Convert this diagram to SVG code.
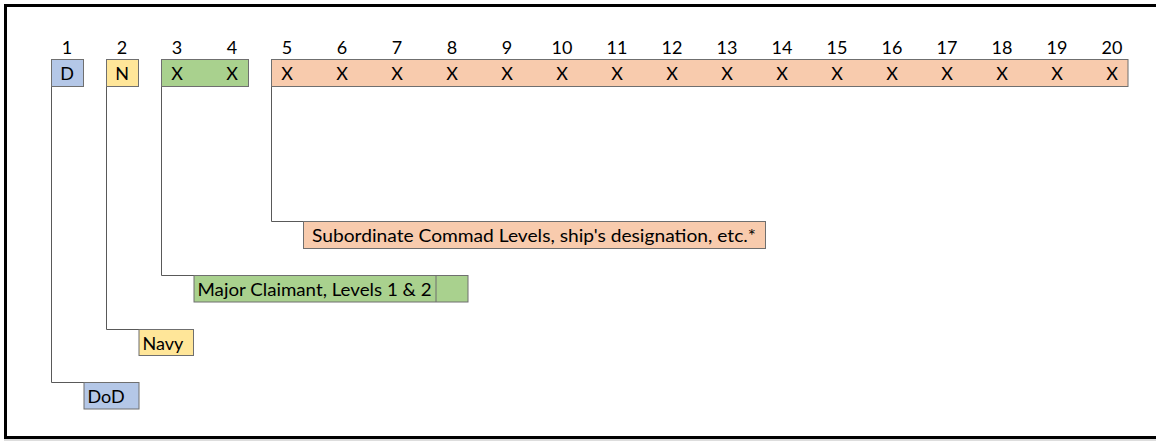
<svg xmlns="http://www.w3.org/2000/svg" width="1156" height="441" viewBox="0 0 1156 441">
<style>
text{font-family:"Lato","Liberation Sans",sans-serif;font-size:18px;fill:#000}
.num{text-anchor:middle}
.x{text-anchor:middle}
.box{stroke:#6f6f6f;stroke-width:1}
.b{fill:#B4C7E7}.y{fill:#FFE699}.g{fill:#A9D18E}.o{fill:#F8CBAD}
.conn{fill:none;stroke:#595959;stroke-width:1}
</style>
<rect x="0" y="0" width="1156" height="441" fill="#fff"/>
<rect x="5.5" y="5.5" width="1160" height="432" fill="none" stroke="#000" stroke-width="3"/>
<line x1="4" y1="440" x2="1156" y2="440" stroke="#bbb" stroke-width="1"/>
<g id="numbers">
<text class="num" x="67" y="54">1</text>
<text class="num" x="122" y="54">2</text>
<text class="num" x="177" y="54">3</text>
<text class="num" x="232" y="54">4</text>
<text class="num" x="287" y="54">5</text>
<text class="num" x="342" y="54">6</text>
<text class="num" x="397" y="54">7</text>
<text class="num" x="452" y="54">8</text>
<text class="num" x="507" y="54">9</text>
<text class="num" x="562" y="54">10</text>
<text class="num" x="617" y="54">11</text>
<text class="num" x="672" y="54">12</text>
<text class="num" x="727" y="54">13</text>
<text class="num" x="782" y="54">14</text>
<text class="num" x="837" y="54">15</text>
<text class="num" x="892" y="54">16</text>
<text class="num" x="947" y="54">17</text>
<text class="num" x="1002" y="54">18</text>
<text class="num" x="1057" y="54">19</text>
<text class="num" x="1112" y="54">20</text>
</g>
<g id="connectors">
<polyline class="conn" points="51.5,87 51.5,382.5 84,382.5"/>
<polyline class="conn" points="106.5,87 106.5,329.5 139,329.5"/>
<polyline class="conn" points="161.5,87 161.5,275.5 194,275.5"/>
<polyline class="conn" points="271.5,87 271.5,221.5 303,221.5"/>
</g>
<g id="cell-D">
<rect class="box b" x="51.5" y="59.5" width="32" height="27"/>
<text class="x" x="67" y="80">D</text>
</g>
<g id="cell-N">
<rect class="box y" x="106.5" y="59.5" width="32" height="27"/>
<text class="x" x="122" y="80">N</text>
</g>
<g id="cell-major">
<rect class="box g" x="161.5" y="59.5" width="87" height="27"/>
<text class="x" x="177" y="80">X</text>
<text class="x" x="232" y="80">X</text>
</g>
<g id="cell-sub">
<rect class="box o" x="271.5" y="59.5" width="856.5" height="27"/>
<text class="x" x="287" y="80">X</text>
<text class="x" x="342" y="80">X</text>
<text class="x" x="397" y="80">X</text>
<text class="x" x="452" y="80">X</text>
<text class="x" x="507" y="80">X</text>
<text class="x" x="562" y="80">X</text>
<text class="x" x="617" y="80">X</text>
<text class="x" x="672" y="80">X</text>
<text class="x" x="727" y="80">X</text>
<text class="x" x="782" y="80">X</text>
<text class="x" x="837" y="80">X</text>
<text class="x" x="892" y="80">X</text>
<text class="x" x="947" y="80">X</text>
<text class="x" x="1002" y="80">X</text>
<text class="x" x="1057" y="80">X</text>
<text class="x" x="1112" y="80">X</text>
</g>
<g id="label-sub">
<rect class="box o" x="303.5" y="221.5" width="462" height="27"/>
<text x="312" y="242" textLength="444" lengthAdjust="spacingAndGlyphs">Subordinate Commad Levels, ship's designation, etc.*</text>
</g>
<g id="label-major">
<rect class="box g" x="194" y="275.5" width="274" height="26.5"/>
<line class="box" x1="436" y1="275.5" x2="436" y2="302"/>
<text x="197.5" y="296" textLength="234" lengthAdjust="spacingAndGlyphs">Major Claimant, Levels 1 &amp; 2</text>
</g>
<g id="label-navy">
<rect class="box y" x="139" y="329.5" width="54.5" height="26"/>
<text x="142.5" y="350">Navy</text>
</g>
<g id="label-dod">
<rect class="box b" x="84" y="382.5" width="55" height="26.5"/>
<text x="87.5" y="403">DoD</text>
</g>
</svg>
